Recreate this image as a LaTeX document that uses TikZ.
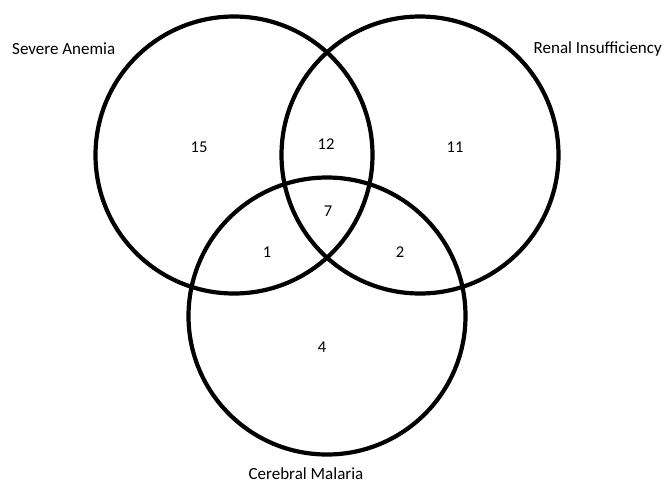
\documentclass[tikz,border=0pt]{standalone}
\usepackage{fontspec}
\setmainfont{Carlito}
\definecolor{RingClr}{rgb}{0,0,0}

\tikzset{
  setring/.style={circle,draw=RingClr,line width=4.2pt,minimum size=277pt,inner sep=0pt},
  settitle/.style={font=\fontsize{17}{19}\selectfont,inner sep=0pt},
  setcount/.style={font=\fontsize{16.5}{18}\selectfont,inner sep=0pt}
}

\begin{document}
\begin{tikzpicture}[x=1pt,y=-1pt]
\useasboundingbox (0,0) rectangle (664,483);

% the three sets
\node[setring] (anemia) at (234,155) {};
\node[setring] (renal) at (420,155) {};
\node[setring] (malaria) at (327,316) {};

\node[settitle,anchor=west] (anemiaT) at (12,49) {Severe Anemia};
\node[settitle,anchor=east] (renalT) at (662,49) {Renal Insufficiency};
\node[settitle,anchor=base] (malariaT) at (306,479) {Cerebral Malaria};

% counts
\node[setcount] (onlyA) at (199,147) {15};
\node[setcount] (AR) at (326,144) {12};
\node[setcount] (onlyR) at (455,147) {11};
\node[setcount] (ARM) at (328,211) {7};
\node[setcount] (AM) at (267,252) {1};
\node[setcount] (RM) at (400,252) {2};
\node[setcount] (onlyM) at (322,347) {4};

\end{tikzpicture}
\end{document}
